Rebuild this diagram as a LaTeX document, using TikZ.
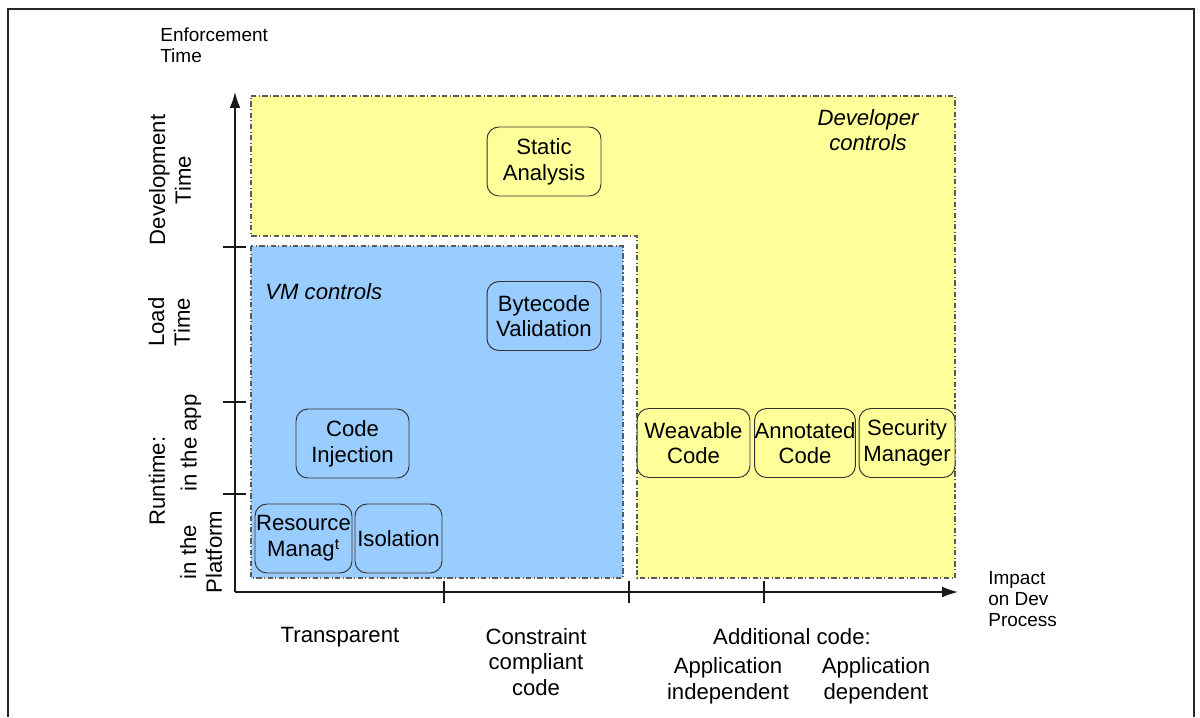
\documentclass[tikz,border=0pt]{standalone}
\usepackage{fontspec}
\setmainfont{Liberation Sans}
\usepackage{tikz}
\usetikzlibrary{arrows.meta}
\definecolor{devyellow}{HTML}{FFFF99}
\definecolor{vmblue}{HTML}{99CCFF}
\definecolor{edgegray}{HTML}{5A5A5A}
\newcommand{\bigsize}{\fontsize{12.6}{14.7}\selectfont}
\newcommand{\smallsize}{\fontsize{10.8}{11.9}\selectfont}

\begin{document}
\begin{tikzpicture}[x=0.02cm,y=-0.02cm]
	\tikzstyle{every node}+=[inner sep=0pt]
	\tikzstyle{region}=[draw=edgegray, line width=0.6pt, dash pattern=on 3pt off 1.4pt on 0.6pt off 1.4pt]
	\tikzstyle{ctrlbox}=[draw=black!80, line width=0.55pt, rounded corners=6.8pt, minimum height=1.38cm, align=center, font=\bigsize]
	\tikzstyle{axislabel}=[align=center, font=\bigsize]
	\useasboundingbox (0,0) rectangle (1200,717);
	% frame
	\draw [black!85, line width=1.2pt] (8,717) -- (8,9) -- (1194,9) -- (1194,717);
	% developer area
	\fill [devyellow] (251,96) -- (955,96) -- (955,578) -- (637,578) -- (637,236) -- (251,236) -- cycle;
	\draw [region] (251,96) -- (955,96) -- (955,578) -- (637,578) -- (637,236) -- (251,236) -- cycle;
	% vm area
	\fill [vmblue] (251,246) rectangle (623,578);
	\draw [region] (251,246) rectangle (623,578);
	\node [font=\bigsize\itshape, align=center] (devctrl) at (868,130) {Developer\\controls};
	\node [font=\bigsize\itshape, anchor=west] (vmctrl) at (265,292) {VM controls};
	% axes
	\coordinate (origin) at (235,592);
	\coordinate (ytop) at (235,92);
	\coordinate (xend) at (958,592);
	\draw [black!90, line width=0.7pt, -{Latex[length=9pt,width=6pt]}] (origin) -- (ytop);
	\draw [black!90, line width=0.7pt, -{Latex[length=9pt,width=6pt]}] (origin) -- (xend);
	\foreach \y in {247,402,494}
		\draw [black!90, line width=0.6pt] (223,\y) -- (246,\y);
	\foreach \x in {444,629,764}
		\draw [black!90, line width=0.6pt] (\x,581) -- (\x,603);
	\node [font=\smallsize, align=left, anchor=west] (enftime) at (160,45.5) {Enforcement\\Time};
	\node [font=\smallsize, align=left, anchor=west] (impact) at (988,599) {Impact\\on Dev\\Process};
	% enforcement time
	\node [axislabel, rotate=90] (devtime) at (170,180) {Development\\Time};
	\node [axislabel, rotate=90] (loadtime) at (169,322) {Load\\Time};
	\node [axislabel, rotate=90] (runtime) at (157,481) {Runtime:};
	\node [axislabel, rotate=90] (inapp) at (191,443) {in the app};
	\node [axislabel, rotate=90] (inplatform) at (201,552) {in the\\Platform};
	% impact on dev process
	\node [axislabel] (transparent) at (340,637) {Transparent};
	\node [axislabel] (compliant) at (536,662) {Constraint\\compliant\\code};
	\node [axislabel] (additional) at (792,637) {Additional code:};
	\node [axislabel] (appindep) at (728,681) {Application\\independent};
	\node [axislabel] (appdep) at (876,681) {Application\\dependent};
	% controls
	\node [ctrlbox, fill=devyellow, minimum width=2.28cm] (static) at (544,161.5) {Static\\Analysis};
	\node [ctrlbox, fill=vmblue, minimum width=2.28cm] (bytecode) at (544,316) {Bytecode\\Validation};
	\node [ctrlbox, fill=vmblue, minimum width=2.26cm] (injection) at (352.5,443.5) {Code\\Injection};
	\node [ctrlbox, fill=vmblue, minimum width=1.94cm] (resource) at (303.5,538.5) {Resource\\Manag\textsuperscript{t}};
	\node [ctrlbox, fill=vmblue, minimum width=1.74cm] (isolation) at (398.5,538.5) {Isolation};
	\node [ctrlbox, fill=devyellow, minimum width=2.26cm] (weavable) at (693.5,443) {Weavable\\Code};
	\node [ctrlbox, fill=devyellow, minimum width=2cm] (annotated) at (805,443) {Annotated\\Code};
	\node [ctrlbox, fill=devyellow, minimum width=1.92cm] (secmanager) at (907,443) {Security\\Manager};
\end{tikzpicture}
\end{document}
